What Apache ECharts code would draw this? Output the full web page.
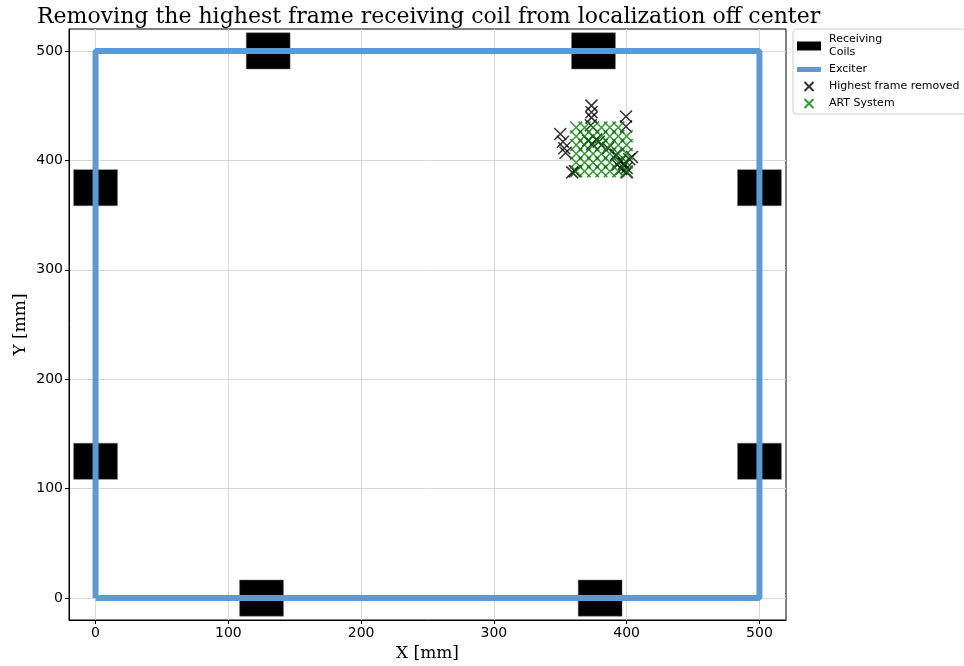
<!DOCTYPE html>
<html><head><meta charset="utf-8">
<script src="https://cdn.jsdelivr.net/npm/echarts@6/dist/echarts.min.js"></script>
<style>html,body{margin:0;padding:0;background:#fff}#c{width:964px;height:666px}</style>
</head><body><div id="c"></div>
<script>
const xTicks = [0, 100, 200, 300, 400, 500];
const yTicks = [0, 100, 200, 300, 400, 500];

const coilX = [130, 375, 0, 0, 500, 500, 125, 380];
const coilY = [500, 500, 375, 125, 375, 125, 0, 0];

const exciterX = [0, 500, 500, 0, 0];
const exciterY = [0, 0, 500, 500, 0];

const removedX = [350, 352, 353, 354, 359, 373.5, 373.5, 373.5, 373, 399.5, 399.5,
  371, 374, 377, 379, 381, 386, 392, 395, 398, 400, 402, 404, 393, 396, 400, 361];
const removedY = [424, 417, 411, 407, 389, 450, 444, 439, 432, 440, 431,
  418, 415, 419, 417, 414, 411, 405, 399, 397, 393, 401, 403, 396, 392, 389, 390];

const artX = [
  362, 368.3, 374.7, 381, 387.3, 393.7,
  362, 368.3, 374.7, 381, 387.3, 393.7, 400,
  362, 368.3, 374.7, 381, 387.3, 393.7, 400,
  362, 368.3, 374.7, 381, 387.3, 393.7, 400,
  362, 368.3, 374.7, 381, 387.3, 393.7, 400,
  362, 368.3, 374.7, 381, 387.3, 393.7, 400
];
const artY = [
  430, 430, 430, 430, 430, 430,
  422, 422, 422, 422, 422, 422, 422,
  414, 414, 414, 414, 414, 414, 414,
  406, 406, 406, 406, 406, 406, 406,
  398, 398, 398, 398, 398, 398, 398,
  390, 390, 390, 390, 390, 390, 390
];

const COIL_W = 33, COIL_H = 33;
const zip = (a, b) => a.map((v, i) => [v, b[i]]);
const X_SYM = 'path://M0,0L10,10M10,0L0,10';

const chart = echarts.init(document.getElementById('c'), null, {renderer: 'canvas'});
const tickFont = {fontFamily: 'DejaVu Sans', fontSize: 14, color: '#000'};
chart.setOption({
  animation: false,
  backgroundColor: '#fff',
  title: {
    text: 'Removing the highest frame receiving coil from localization off center',
    left: 32, top: 1,
    textStyle: {fontFamily: 'DejaVu Serif', fontSize: 22, fontWeight: 'normal', color: '#000'}
  },
  legend: {
    orient: 'vertical', left: 793, top: 29,
    padding: [4, 6, 4, 4], itemGap: 4,
    itemWidth: 24, itemHeight: 9,
    borderColor: '#ccc', borderWidth: 1, borderRadius: 3,
    textStyle: {fontFamily: 'DejaVu Sans', fontSize: 11, color: '#000', lineHeight: 13, padding: [0, 0, 0, 3]},
    data: [
      {name: 'Receiving\nCoils', icon: 'rect'},
      {name: 'Exciter', icon: 'path://M0,0L24,0L24,5L0,5Z'},
      {name: 'Highest frame removed', icon: X_SYM},
      {name: 'ART System', icon: X_SYM}
    ]
  },
  grid: {left: 69, right: 178, top: 29, bottom: 46, show: true, borderColor: '#000', borderWidth: 1,
    backgroundColor: 'transparent', containLabel: false, outerBoundsMode: 'none'},
  xAxis: {
    type: 'value', min: -20, max: 520,
    name: 'X [mm]', nameLocation: 'middle', nameGap: 25, nameMoveOverlap: false,
    nameTextStyle: {fontFamily: 'DejaVu Serif', fontSize: 17, color: '#000'},
    axisLine: {show: true, onZero: false, lineStyle: {color: '#000', width: 1}},
    axisTick: {show: true, length: 4, customValues: xTicks, lineStyle: {color: '#000'}},
    axisLabel: Object.assign({customValues: xTicks, margin: 6}, tickFont),
    splitLine: {show: true, lineStyle: {color: '#d8d8d8', width: 1}}
  },
  yAxis: {
    type: 'value', min: -20, max: 520,
    name: 'Y [mm]', nameLocation: 'middle', nameGap: 40, nameMoveOverlap: false,
    nameTextStyle: {fontFamily: 'DejaVu Serif', fontSize: 17, color: '#000'},
    axisLine: {show: true, onZero: false, lineStyle: {color: '#000', width: 1}},
    axisTick: {show: true, length: 4, customValues: yTicks, lineStyle: {color: '#000'}},
    axisLabel: Object.assign({customValues: yTicks, margin: 6}, tickFont),
    splitLine: {show: true, lineStyle: {color: '#d8d8d8', width: 1}}
  },
  series: [
    {
      name: 'Receiving\nCoils', type: 'custom', z: 2,
      itemStyle: {color: '#000'},
      data: zip(coilX, coilY),
      renderItem: function (params, api) {
        const x = api.value(0), y = api.value(1);
        const p = api.coord([x - COIL_W / 2, y + COIL_H / 2]);
        const s = api.size([COIL_W, COIL_H]);
        return {type: 'rect', shape: {x: p[0], y: p[1], width: s[0], height: s[1]},
          style: {fill: '#000', stroke: '#666', lineWidth: 0.5}};
      }
    },
    {
      name: 'Exciter', type: 'line', z: 3,
      data: zip(exciterX, exciterY),
      showSymbol: false, symbol: 'none',
      itemStyle: {color: '#5b9bd5'},
      lineStyle: {color: '#5b9bd5', width: 6}
    },
    {
      name: 'Highest frame removed', type: 'scatter', z: 4,
      symbol: X_SYM, symbolSize: 12,
      itemStyle: {color: 'rgba(0,0,0,0)', borderColor: '#000', borderWidth: 1.5},
      data: zip(removedX, removedY)
    },
    {
      name: 'ART System', type: 'scatter', z: 5,
      symbol: X_SYM, symbolSize: 12,
      itemStyle: {color: 'rgba(0,0,0,0)', borderColor: '#008000', borderWidth: 1.5},
      data: zip(artX, artY)
    }
  ]
});
</script>
</body></html>
